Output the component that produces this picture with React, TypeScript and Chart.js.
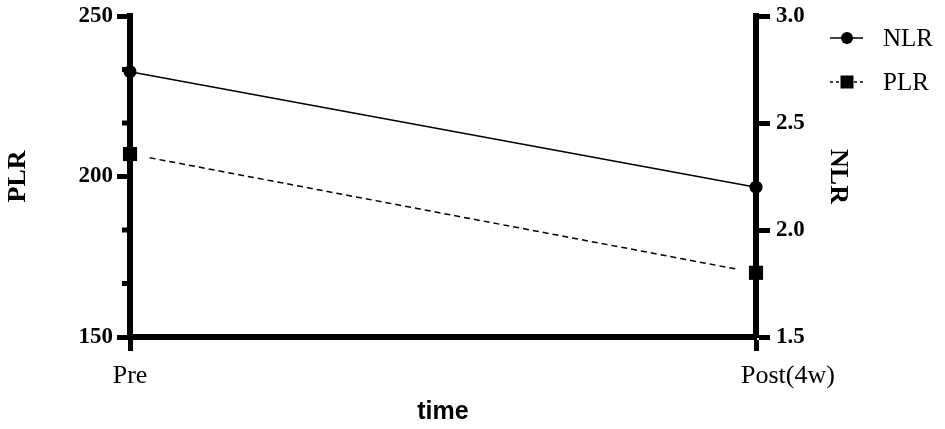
import React, { useEffect, useRef } from 'react';
import { Chart, registerables } from 'chart.js';

Chart.register(...registerables);

// ---- data ----
const categories = ['Pre', 'Post(4w)'];
const nlrValues = [2.74, 2.2];
const plrValues = [207, 170];

const PLR_MIN = 150;
const PLR_MAX = 250;
const PLR_STEP = 50;
const PLR_MINOR_DIVISIONS = 3;

const NLR_MIN = 1.5;
const NLR_MAX = 3.0;
const NLR_STEP = 0.5;

const SERIF = "'Liberation Serif', 'Times New Roman', serif";
const SANS = "'Liberation Sans', Arial, sans-serif";
const AXIS_W = 6;
const TICK_W = 5;

const customPlugin = {
  id: 'customDecor',
  beforeDatasetsDraw(chart: any) {
    const s = chart.scales.yL;
    const ctx = chart.ctx;
    ctx.save();
    ctx.strokeStyle = '#000';
    ctx.lineWidth = TICK_W;
    const step = PLR_STEP / PLR_MINOR_DIVISIONS;
    for (let v = PLR_MIN; v < PLR_MAX - 1e-9; v += PLR_STEP) {
      for (let k = 1; k < PLR_MINOR_DIVISIONS; k++) {
        const y = s.getPixelForValue(v + k * step);
        ctx.beginPath();
        ctx.moveTo(s.right, y);
        ctx.lineTo(s.right - 8, y);
        ctx.stroke();
      }
    }
    ctx.restore();
  },
  beforeDatasetDraw(chart: any, args: any) {
    if (args.index !== 1) return;
    const ctx = chart.ctx;
    ctx.save();
    ctx.beginPath();
    ctx.rect(0, 0, chart.width, chart.height);
    args.meta.data.forEach((pt: any) => {
      ctx.rect(pt.x - 18, pt.y - 18, 36, 36);
    });
    ctx.clip('evenodd');
  },
  afterDatasetDraw(chart: any, args: any) {
    if (args.index !== 1) return;
    chart.ctx.restore();
  },
  afterDraw(chart: any) {
    const ctx = chart.ctx;
    const xs = chart.scales.x;
    const area = chart.chartArea;
    ctx.save();
    ctx.fillStyle = '#000';
    ctx.font = `26px ${SERIF}`;
    ctx.textBaseline = 'alphabetic';
    categories.forEach((c, i) => {
      const px = xs.getPixelForTick(i);
      if (i === 0) {
        ctx.textAlign = 'center';
        ctx.fillText(c, px, area.bottom + 46);
      } else {
        ctx.textAlign = 'left';
        ctx.fillText(c, px - 15, area.bottom + 46);
      }
    });

    const ds = chart.data.datasets;
    const entries = [
      { label: ds[0].label, style: 'circle', dash: [] as number[], dy: 22 },
      { label: ds[2].label, style: 'rect', dash: [3, 3], dy: 66 },
    ];
    const x0 = area.right + 74;
    const x1 = area.right + 107;
    const xm = area.right + 91;
    const xt = area.right + 127;
    entries.forEach((e) => {
      const y = area.top + e.dy;
      ctx.strokeStyle = '#000';
      ctx.lineWidth = 1.5;
      ctx.setLineDash(e.dash);
      ctx.beginPath();
      ctx.moveTo(x0, y);
      ctx.lineTo(x1, y);
      ctx.stroke();
      ctx.setLineDash([]);
      ctx.fillStyle = '#000';
      ctx.beginPath();
      if (e.style === 'circle') {
        ctx.arc(xm, y, 6, 0, Math.PI * 2);
      } else {
        ctx.rect(xm - 6.5, y - 6.5, 13, 13);
      }
      ctx.fill();
      ctx.font = `25px ${SERIF}`;
      ctx.textAlign = 'left';
      ctx.textBaseline = 'middle';
      ctx.fillText(e.label, xt, y + 1);
    });
    ctx.restore();
  },
};

export default function App() {
  const ref = useRef<HTMLCanvasElement | null>(null);

  useEffect(() => {
    if (!ref.current) return;
    Chart.defaults.color = '#000';
    const chart = new Chart(ref.current, {
      type: 'line',
      data: {
        labels: categories,
        datasets: [
          {
            label: 'NLR',
            data: nlrValues,
            yAxisID: 'yR',
            borderColor: '#000',
            borderWidth: 1.5,
            pointStyle: 'circle',
            pointRadius: 6.5,
            pointBackgroundColor: '#000',
            pointBorderColor: '#000',
            pointBorderWidth: 0,
            clip: false,
          } as any,
          {
            label: 'PLR',
            data: plrValues,
            yAxisID: 'yL',
            borderColor: '#000',
            borderWidth: 1.5,
            borderDash: [6, 4],
            pointRadius: 0,
            clip: false,
          } as any,
          {
            label: 'PLR',
            data: plrValues,
            yAxisID: 'yL',
            showLine: false,
            pointStyle: 'rect',
            pointRadius: 10,
            pointBackgroundColor: '#000',
            pointBorderColor: '#000',
            pointBorderWidth: 0,
            clip: false,
          } as any,
        ],
      },
      options: {
        responsive: false,
        animation: false,
        layout: { padding: { top: 16, right: 89, bottom: 0, left: 0 } },
        plugins: {
          legend: { display: false },
          tooltip: { enabled: false },
        },
        scales: {
          x: {
            type: 'category',
            offset: false,
            grid: {
              drawOnChartArea: false,
              drawTicks: true,
              tickLength: 14,
              tickWidth: TICK_W,
              tickColor: '#000',
            },
            border: { display: true, width: AXIS_W, color: '#000' },
            ticks: {
              color: 'rgba(0,0,0,0)',
              font: { family: SERIF, size: 26 },
              padding: 4,
              maxRotation: 0,
              autoSkip: false,
            },
            title: {
              display: true,
              text: 'time',
              color: '#000',
              font: { family: SANS, size: 25, weight: 'bold' },
              padding: { top: 0, bottom: 2 },
            },
            afterFit(s: any) {
              s.height = 92;
            },
          },
          yL: {
            type: 'linear',
            position: 'left',
            min: PLR_MIN,
            max: PLR_MAX,
            ticks: {
              stepSize: PLR_STEP,
              color: '#000',
              font: { family: SERIF, size: 23, weight: 'bold' },
              padding: 4,
            },
            grid: {
              drawOnChartArea: false,
              tickLength: 13,
              tickWidth: TICK_W,
              tickColor: '#000',
            },
            border: { display: true, width: AXIS_W, color: '#000' },
            title: {
              display: true,
              text: 'PLR',
              color: '#000',
              font: { family: SERIF, size: 26, weight: 'bold' },
              padding: { top: 3, bottom: 0 },
            },
            afterFit(s: any) {
              s.width = 130;
              s.paddingTop = 0;
              s.paddingBottom = 0;
            },
          },
          yR: {
            type: 'linear',
            position: 'right',
            min: NLR_MIN,
            max: NLR_MAX,
            ticks: {
              stepSize: NLR_STEP,
              color: '#000',
              font: { family: SERIF, size: 23, weight: 'bold' },
              padding: 6,
              callback: (v: any) => Number(v).toFixed(1),
            },
            grid: {
              drawOnChartArea: false,
              tickLength: 14,
              tickWidth: TICK_W,
              tickColor: '#000',
            },
            border: { display: true, width: AXIS_W, color: '#000' },
            title: {
              display: true,
              text: 'NLR',
              color: '#000',
              font: { family: SERIF, size: 26, weight: 'bold' },
              padding: { top: 3, bottom: 0 },
            },
            afterFit(s: any) {
              s.width = 100;
              s.paddingTop = 0;
              s.paddingBottom = 0;
            },
          },
        },
      } as any,
      plugins: [customPlugin as any],
    });
    return () => chart.destroy();
  }, []);

  return (
    <div style={{ position: 'absolute', left: 0, top: 0, width: 945, height: 429, background: '#fff' }}>
      <canvas ref={ref} width={945} height={429} />
    </div>
  );
}
